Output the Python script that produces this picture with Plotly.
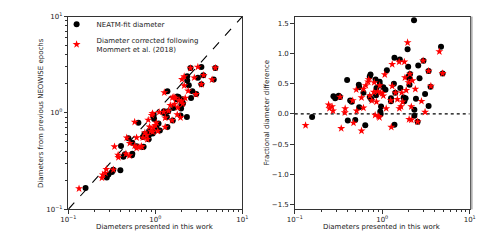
import plotly.graph_objects as go

# Black points: NEATM-fit diameter (this work) and fractional difference
neatm_diam = [0.158, 0.277, 0.29, 0.318, 0.329, 0.397, 0.404, 0.43, 0.448, 0.492,
              0.54, 0.545, 0.545, 0.61, 0.64, 0.72, 0.735, 0.72, 0.75, 0.84,
              0.85, 0.86, 0.94, 0.95, 0.96, 0.935, 0.97, 1.03, 1.09, 1.13,
              1.26, 1.26, 1.36, 1.38, 1.38, 1.41, 1.59, 1.61, 1.76, 1.79,
              1.85, 1.95, 1.98, 2.0, 2.05, 2.08, 2.05, 2.31, 2.33, 2.33,
              2.43, 2.54, 2.58, 2.67, 2.96, 3.09, 3.39, 3.39, 3.57, 4.7, 4.9]
neatm_frac = [-0.05, 0.29, 0.26, 0.30, 0.28, 0.56, -0.11, 0.22, 0.20, -0.10,
              0.48, 0.44, 0.11, 0.35, -0.19, 0.28, 0.65, 0.62, 0.24, 0.57,
              0.31, 0.43, 0.48, 0.04, 0.00, 0.53, 0.12, 0.44, 0.40, 0.72,
              0.21, 0.26, 0.50, 0.93, -0.18, 0.35, 0.90, 0.43, 0.27, 0.21,
              0.26, 1.07, 0.78, 0.62, 0.59, 0.66, 0.48, 1.55, 0.07, -0.03,
              0.25, -0.13, 0.80, 0.59, 0.88, 0.33, 0.71, 0.13, 0.45, 1.11, 0.67]

# Red stars: diameter corrected following Mommert et al. (2018)
corr_diam = [0.133, 0.244, 0.249, 0.267, 0.274, 0.33, 0.34, 0.377, 0.374, 0.46,
             0.47, 0.505, 0.51, 0.58, 0.58, 0.61, 0.61, 0.65, 0.70, 0.69,
             0.72, 0.76, 0.80, 0.81, 0.83, 0.86, 0.89, 0.91, 0.93, 0.935,
             0.95, 1.0, 1.03, 1.07, 1.11, 1.25, 1.27, 1.30, 1.30, 1.42,
             1.49, 1.56, 1.57, 1.64, 1.67, 1.71, 1.79, 1.82, 1.88, 1.95,
             2.0, 2.03, 2.07, 2.15, 2.15, 2.21, 2.39, 2.54, 2.81, 2.93,
             3.09, 3.39, 3.6, 4.5, 4.9]
corr_frac = [-0.19, 0.15, 0.09, 0.12, 0.05, 0.28, -0.24, 0.09, 0.02, 0.22,
             -0.15, 0.40, 0.05, 0.27, -0.28, 0.10, 0.41, 0.47, 0.57, 0.53,
             0.30, 0.22, 0.36, 0.52, -0.02, 0.20, 0.37, -0.04, -0.06, 0.47,
             0.35, 0.34, 0.30, 0.65, 0.09, 0.22, -0.22, 0.82, 0.46, 0.35,
             0.24, 0.86, 0.09, 0.12, 0.35, 0.20, 0.86, 0.60, 0.39, 1.18,
             0.52, -0.09, 0.66, 0.12, -0.10, 0.55, 0.41, -0.13, 0.21, 0.88,
             0.03, 0.71, 0.46, 1.03, 0.67]

# Previous NEOWISE diameters follow from frac = D / D_prev - 1
neatm_prev = [d / (1 + f) for d, f in zip(neatm_diam, neatm_frac)]
corr_prev = [d / (1 + f) for d, f in zip(corr_diam, corr_frac)]

log_ticks = [0.1, 1, 10]
log_ticktext = ["10<sup>\u22121</sup>", "10<sup>0</sup>", "10<sup>1</sup>"]
minor_vals = [m * 10 ** e for e in (-1, 0) for m in range(2, 10)]
frac_ticks = [-1.5, -1.0, -0.5, 0.0, 0.5, 1.0, 1.5]

FONT = "DejaVu Sans"
AX = "#333333"
TXT = "#222222"

fig = go.Figure()

# Left panel
fig.add_trace(go.Scatter(x=[0.1, 10], y=[0.1, 10], mode="lines",
                         line=dict(color="black", width=1.1, dash="dash"),
                         showlegend=False, hoverinfo="skip", xaxis="x", yaxis="y"))
fig.add_trace(go.Scatter(x=neatm_diam, y=neatm_prev, mode="markers",
                         name="NEATM-fit diameter",
                         marker=dict(symbol="circle", size=6, color="black"),
                         xaxis="x", yaxis="y"))
fig.add_trace(go.Scatter(x=corr_diam, y=corr_prev, mode="markers",
                         name="Diameter corrected following<br>Mommert et al. (2018)",
                         marker=dict(symbol="star", size=6, color="red", line=dict(width=0)),
                         xaxis="x", yaxis="y"))

# Right panel
fig.add_trace(go.Scatter(x=[0.1, 10], y=[0, 0], mode="lines",
                         line=dict(color="black", width=1.1, dash="dot"),
                         showlegend=False, hoverinfo="skip", xaxis="x2", yaxis="y2"))
fig.add_trace(go.Scatter(x=neatm_diam, y=neatm_frac, mode="markers",
                         marker=dict(symbol="circle", size=6, color="black"),
                         showlegend=False, xaxis="x2", yaxis="y2"))
fig.add_trace(go.Scatter(x=corr_diam, y=corr_frac, mode="markers",
                         marker=dict(symbol="star", size=6, color="red", line=dict(width=0)),
                         showlegend=False, xaxis="x2", yaxis="y2"))

common = dict(showline=True, linecolor=AX, linewidth=1, mirror=True, showgrid=False,
              zeroline=False, ticks="outside", ticklen=3.5, tickwidth=0.8, tickcolor=AX,
              tickfont=dict(family=FONT, size=7, color=TXT))
logax = dict(common, type="log", range=[-1, 1], tickvals=log_ticks, ticktext=log_ticktext,
             minor=dict(tickvals=minor_vals, ticks="outside", ticklen=2, tickwidth=0.6,
                        tickcolor=AX, showgrid=False))

title_font = dict(family=FONT, size=7, color=TXT)

fig.update_layout(
    width=500, height=250,
    margin=dict(l=0, r=0, t=0, b=0),
    paper_bgcolor="white", plot_bgcolor="white",
    font=dict(family=FONT, size=7, color=TXT),
    xaxis=dict(logax, domain=[0.124, 0.482], anchor="y"),
    yaxis=dict(logax, domain=[0.152, 0.952], anchor="x"),
    xaxis2=dict(logax, domain=[0.59, 0.95], anchor="y2"),
    yaxis2=dict(common, domain=[0.152, 0.952], anchor="x2", range=[-1.58, 1.61],
                tickvals=frac_ticks, tickformat=".1f"),
    legend=dict(x=0.1, y=0.98, xanchor="left", yanchor="top",
                bgcolor="rgba(0,0,0,0)", font=dict(family=FONT, size=7, color=TXT),
                itemwidth=30),
    showlegend=True,
    shapes=[dict(type="line", xref="paper", yref="paper", x0=0.954, x1=0.954,
                 y0=0.152, y1=0.952, line=dict(color="#b0b0b0", width=2))],
    annotations=[
        dict(text="Diameters presented in this work", x=0.303, y=0.08, xref="paper", yref="paper",
             showarrow=False, font=title_font, xanchor="center", yanchor="middle"),
        dict(text="Diameters presented in this work", x=0.77, y=0.08, xref="paper", yref="paper",
             showarrow=False, font=title_font, xanchor="center", yanchor="middle"),
        dict(text="Diameters from previous NEOWISE epochs", x=0.068, y=0.552, xref="paper",
             yref="paper", textangle=-90, showarrow=False, font=title_font,
             xanchor="center", yanchor="middle"),
        dict(text="Fractional diameter difference", x=0.532, y=0.552, xref="paper",
             yref="paper", textangle=-90, showarrow=False, font=title_font,
             xanchor="center", yanchor="middle"),
    ],
)

fig.write_html("out.html", config={"displayModeBar": False},
               post_script="document.body.style.margin='0';")
